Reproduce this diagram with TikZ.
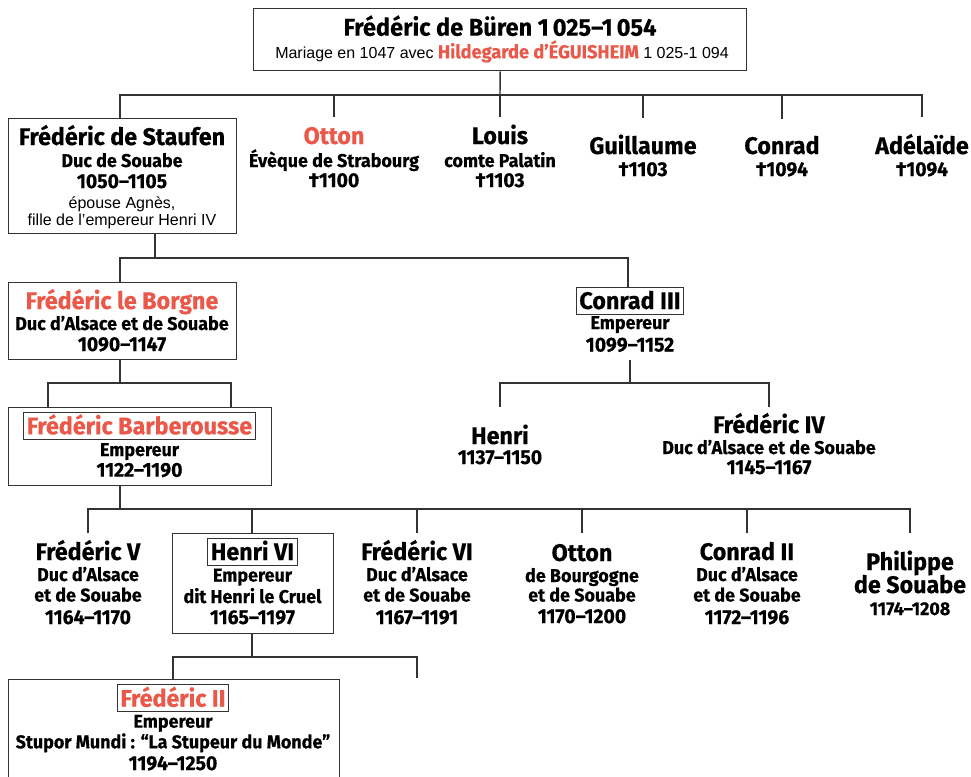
\documentclass[tikz,border=0pt]{standalone}
\usepackage{fontspec}
\setmainfont{Liberation Sans}
\newfontfamily\firaf{Fira Sans}[FakeStretch=0.97, FakeBold=0.4]
\definecolor{rd}{RGB}{234,88,74}
\definecolor{lc}{RGB}{51,51,51}
\tikzset{
  ln/.style={draw=lc, line width=1.4pt},
  pbox/.style={draw=lc, line width=1.4pt, fill=white, inner sep=0pt, anchor=north west},
  nm/.style={font=\firaf\bfseries\fontsize{24}{28}\selectfont, anchor=base, inner sep=0pt},
  nmt/.style={font=\firaf\bfseries\fontsize{24.3}{28}\selectfont, anchor=base, inner sep=0pt},
  sb/.style={font=\firaf\bfseries\fontsize{18.5}{22}\selectfont, anchor=base, inner sep=0pt},
  dt/.style={font=\firaf\bfseries\fontsize{20}{24}\selectfont, anchor=base, inner sep=0pt},
  rg/.style={font=\fontsize{16}{18}\selectfont, anchor=base, inner sep=0pt},
  rgt/.style={font=\fontsize{16}{18}\selectfont, anchor=base, inner sep=0pt},
  red/.style={text=rd},
  ibox/.style={draw=lc, line width=0.9pt, inner xsep=3pt, inner ysep=3pt, text height=19pt, text depth=2pt},
}
\begin{document}
\begin{tikzpicture}[x=1pt,y=-1pt]
\clip (0,0) rectangle (971,776);
\fill[white] (0,0) rectangle (971,776);

% ---------- boxes ----------
\node[pbox, minimum width=493pt, minimum height=62pt] (buren) at (253,8) {};
\node[pbox, minimum width=228pt, minimum height=115pt] (stauf) at (8,118) {};
\node[pbox, minimum width=228pt, minimum height=77pt] (borgne) at (8,282) {};
\node[pbox, minimum width=263pt, minimum height=78pt] (barb) at (8,407) {};
\node[pbox, minimum width=161pt, minimum height=100pt] (henri6) at (172,533) {};
\node[pbox, minimum width=331pt, minimum height=130pt] (fred2) at (8,679) {};

% ---------- top ----------
\node[nmt] (buren-a) at (500,35.7) {Frédéric de Büren 1\,025–1\,054};
\node[rgt] (buren-b) at (502,58.3) {Mariage en 1047 avec {\firaf\bfseries\fontsize{18.8}{20}\selectfont\color{rd}Hildegarde d’ÉGUISHEIM} 1 025-1 094};

% ---------- row 1 ----------
\node[nm] (stauf-a) at (122,145) {Frédéric de Staufen};
\node[sb] (stauf-b) at (122,167) {Duc de Souabe};
\node[dt] (stauf-c) at (122,188) {1050–1105};
\node[rg] (stauf-d) at (122,208) {épouse Agnès,};
\node[rg] (stauf-e) at (122,225.5) {fille de l’empereur Henri IV};

\node[nm,red] (otton1-a) at (334,144) {Otton};
\node[sb] (otton1-b) at (334,167) {Évèque de Strabourg};
\node[dt] (otton1-c) at (334,187) {†1100};

\node[nm] (louis-a) at (500,144) {Louis};
\node[sb] (louis-b) at (500,167) {comte Palatin};
\node[dt] (louis-c) at (500,187) {†1103};

\node[nm] (guill-a) at (643,154) {Guillaume};
\node[dt] (guill-b) at (643,176) {†1103};

\node[nm] (conr-a) at (782,154) {Conrad};
\node[dt] (conr-b) at (782,176) {†1094};

\node[nm] (adel-a) at (922,154) {Adélaïde};
\node[dt] (adel-b) at (922,176) {†1094};

% ---------- row 2 ----------
\node[nm,red] (borgne-a) at (122,309) {Frédéric le Borgne};
\node[sb] (borgne-b) at (122,330) {Duc d’Alsace et de Souabe};
\node[dt] (borgne-c) at (122,351) {1090–1147};

\node[nm,ibox] (conr3-a) at (630,309) {Conrad III};
\node[sb] (conr3-b) at (630,329) {Empereur};
\node[dt] (conr3-c) at (630,351.5) {1099–1152};

% ---------- row 3 ----------
\node[nm,red,ibox] (barb-a) at (139.5,434.3) {Frédéric Barberousse};
\node[sb] (barb-b) at (139.5,456) {Empereur};
\node[dt] (barb-c) at (139.5,476.7) {1122–1190};

\node[nm] (henri-a) at (500,444) {Henri};
\node[dt] (henri-b) at (500,464) {1137–1150};

\node[nm] (fred4-a) at (769,433) {Frédéric IV};
\node[sb] (fred4-b) at (769,454) {Duc d’Alsace et de Souabe};
\node[dt] (fred4-c) at (769,474) {1145–1167};

% ---------- row 4 ----------
\node[nm] (fv-a) at (88,560) {Frédéric V};
\node[sb] (fv-b) at (88,581) {Duc d’Alsace};
\node[sb] (fv-c) at (88,601.5) {et de Souabe};
\node[dt] (fv-d) at (88,624) {1164–1170};

\node[nm,ibox] (henri6-a) at (252.5,560) {Henri VI};
\node[sb] (henri6-b) at (252.5,581.5) {Empereur};
\node[sb] (henri6-c) at (252.5,603) {dit Henri le Cruel};
\node[dt] (henri6-d) at (252.5,624) {1165–1197};

\node[nm] (fvi-a) at (417,560) {Frédéric VI};
\node[sb] (fvi-b) at (417,581) {Duc d’Alsace};
\node[sb] (fvi-c) at (417,601.5) {et de Souabe};
\node[dt] (fvi-d) at (417,624) {1167–1191};

\node[nm] (otton2-a) at (582,561) {Otton};
\node[sb] (otton2-b) at (582,582) {de Bourgogne};
\node[sb] (otton2-c) at (582,601.5) {et de Souabe};
\node[dt] (otton2-d) at (582,623) {1170–1200};

\node[nm] (conr2-a) at (747,560) {Conrad II};
\node[sb] (conr2-b) at (747,581) {Duc d’Alsace};
\node[sb] (conr2-c) at (747,601.5) {et de Souabe};
\node[dt] (conr2-d) at (747,624) {1172–1196};

\node[nm] (phil-a) at (910,570) {Philippe};
\node[nm] (phil-b) at (910,593) {de Souabe};
\node[sb] (phil-c) at (910,615) {1174–1208};

% ---------- row 5 ----------
\node[nm,red,ibox] (fred2-a) at (173,706.7) {Frédéric II};
\node[sb] (fred2-b) at (173,727.7) {Empereur};
\node[sb] (fred2-c) at (173,748.3) {Stupor Mundi : “La Stupeur du Monde”};
\node[dt] (fred2-d) at (173,770) {1194–1250};

% ---------- connector end points ----------
\coordinate (j1) at (500,95);
\coordinate (t-stauf) at (120,118);
\coordinate (t-otton1) at (334,117);
\coordinate (t-louis) at (500,117);
\coordinate (t-guill) at (643,118);
\coordinate (t-conr) at (782,119);
\coordinate (t-adel) at (922,117);

\coordinate (s-stauf) at (155,233);
\coordinate (j2) at (155,258);
\coordinate (t-borgne) at (120,282);

\coordinate (s-borgne) at (120,359);
\coordinate (j3) at (120,383);
\coordinate (t-barb1) at (48,407);
\coordinate (t-barb2) at (231,407);

\coordinate (s-conr3) at (630,360);
\coordinate (j4) at (630,383);
\coordinate (t-henri) at (500,407);
\coordinate (t-fred4) at (769,407);

\coordinate (s-barb) at (120,485);
\coordinate (j5) at (120,509);
\coordinate (t-fv) at (88,533);
\coordinate (t-henri6) at (252,533);
\coordinate (t-fvi) at (417,533);
\coordinate (t-otton2) at (582,533);
\coordinate (t-conr2) at (747,533);
\coordinate (t-phil) at (910,533);

\coordinate (s-henri6) at (252,633);
\coordinate (j6) at (252,657);
\coordinate (t-fred2) at (173,679);
\coordinate (t-blank) at (417,678);

% ---------- connectors ----------
\draw[ln] (buren.south) -- (j1);
\draw[ln] (t-stauf) |- (j1) -| (t-adel);
\foreach \c in {t-otton1,t-louis,t-guill,t-conr} \draw[ln] (\c) -- (\c |- j1);

\draw[ln] (s-stauf) -- (j2);
\draw[ln] (t-borgne) |- (j2) -| (conr3-a.north -| 628,0);

\draw[ln] (s-borgne) -- (j3);
\draw[ln] (t-barb1) |- (j3) -| (t-barb2);

\draw[ln] (s-conr3) -- (j4);
\draw[ln] (t-henri) |- (j4) -| (t-fred4);

\draw[ln] (s-barb) -- (j5);
\draw[ln] (t-fv) |- (j5) -| (t-phil);
\foreach \c in {t-henri6,t-fvi,t-otton2,t-conr2} \draw[ln] (\c) -- (\c |- j5);

\draw[ln] (s-henri6) -- (j6);
\draw[ln] (t-fred2) |- (j6) -| (t-blank);
\end{tikzpicture}
\end{document}
